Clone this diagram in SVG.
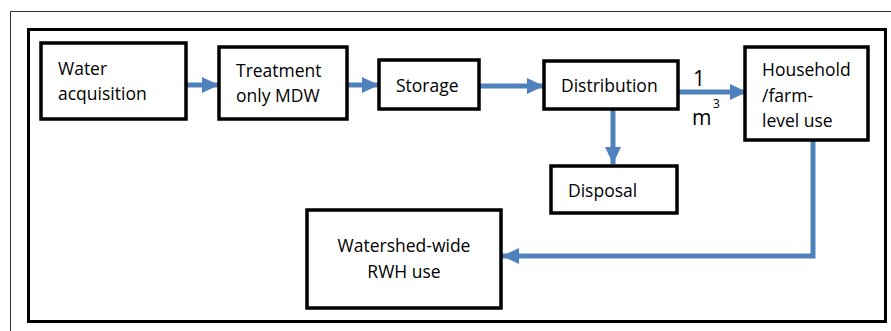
<svg xmlns="http://www.w3.org/2000/svg" width="891" height="331" viewBox="0 0 891 331">
<defs>
<style>
.box{fill:#fff;stroke:#000;stroke-width:3.5}
.t{font-family:"Open Sans","Noto Sans",sans-serif;font-size:17.5px;fill:#000}
.big{font-size:21px}
.c{fill:none;stroke:#4F81BD;stroke-width:5}
</style>
<marker id="ah" markerUnits="userSpaceOnUse" markerWidth="18" markerHeight="18" viewBox="0 0 18 18" refX="17" refY="9" orient="auto">
<path d="M0,1 L17,9 L0,17 Z" fill="#4F81BD"/>
</marker>
</defs>
<rect x="0" y="0" width="891" height="331" fill="#fff"/>
<path d="M10.5,331 V11.5 H891" fill="none" stroke="#333" stroke-width="1"/>
<rect x="28.5" y="29.5" width="857" height="292" fill="none" stroke="#000" stroke-width="3"/>
<g id="connectors">
<line class="c" x1="187" y1="85" x2="219" y2="85" marker-end="url(#ah)"/>
<line class="c" x1="348" y1="85" x2="379" y2="85" marker-end="url(#ah)"/>
<line class="c" x1="480" y1="86" x2="544" y2="86" marker-end="url(#ah)"/>
<line class="c" x1="679" y1="92" x2="747" y2="92" marker-end="url(#ah)"/>
<line class="c" x1="613" y1="110" x2="613" y2="164" marker-end="url(#ah)"/>
<path class="c" d="M813,141 V256 H502" marker-end="url(#ah)"/>
<text class="t big" x="693" y="86">1</text>
<text class="t big" x="692" y="125">m</text>
<text class="t" x="713" y="108" style="font-size:12px">3</text>
</g>
<g id="water">
<rect class="box" x="41" y="43" width="145" height="76"/>
<text class="t" x="58" y="75">Water</text>
<text class="t" x="58" y="100">acquisition</text>
</g>
<g id="treatment">
<rect class="box" x="219" y="47" width="128" height="72"/>
<text class="t" x="236" y="77">Treatment</text>
<text class="t" x="236" y="102">only MDW</text>
</g>
<g id="storage">
<rect class="box" x="379" y="60" width="100" height="49"/>
<text class="t" x="396" y="92">Storage</text>
</g>
<g id="distribution">
<rect class="box" x="544" y="61" width="134" height="48"/>
<text class="t" x="561" y="92">Distribution</text>
</g>
<g id="household">
<rect class="box" x="745" y="47" width="123" height="93"/>
<text class="t" x="762" y="76">Household</text>
<text class="t" x="762" y="102">/farm-</text>
<text class="t" x="762" y="127">level use</text>
</g>
<g id="disposal">
<rect class="box" x="551" y="166" width="126" height="47"/>
<text class="t" x="568" y="197">Disposal</text>
</g>
<g id="watershed">
<rect class="box" x="307" y="210" width="194" height="98"/>
<text class="t" x="404" y="252" text-anchor="middle">Watershed-wide</text>
<text class="t" x="404" y="278" text-anchor="middle">RWH use</text>
</g>
</svg>
